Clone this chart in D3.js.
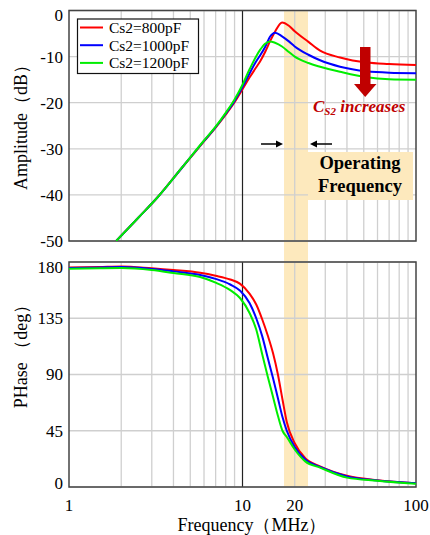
<!DOCTYPE html>
<html>
<head>
<meta charset="utf-8">
<script src="https://cdn.jsdelivr.net/npm/d3@7"></script>
<style>
  body { margin: 0; background: #fff; }
  text { font-family: "Times New Roman", "Liberation Serif", serif; }
</style>
</head>
<body>
<svg id="chart" width="430" height="535"></svg>
<script>
// data
var freqAmp = [1.87, 2.5, 3.26, 4.5, 6, 7, 8, 9, 10, 11, 12, 12.6, 13.5, 14.4, 15.4, 16.9, 18.5, 20, 24, 28, 36.5, 52, 70, 100];
var ampRed = [-50, -45, -40.4, -34, -28.4, -25.4, -22.6, -19.9, -17.1, -14.5, -12.3, -11.1, -9.0, -6.7, -4.6, -2.6, -3.3, -4.5, -6.8, -8.7, -10.2, -11.3, -11.6, -11.8];
var ampBlue = [-50, -45, -40.4, -34, -28.3, -25.3, -22.4, -19.6, -16.6, -13.6, -11.0, -9.8, -7.9, -5.7, -4.8, -5.6, -6.7, -7.8, -9.6, -10.8, -12.2, -13.2, -13.5, -13.6];
var ampGreen = [-50, -45, -40.4, -34, -28.2, -25.2, -22.2, -19.3, -16.1, -12.7, -9.9, -8.6, -7.2, -6.7, -7.0, -7.8, -9.0, -10.0, -11.4, -12.2, -13.3, -14.5, -14.9, -15.0];

var freqPh = [1, 1.5, 2, 3, 4, 5.7, 7, 8.5, 9.7, 11, 12, 13, 14, 15, 16, 17, 18, 20, 23, 28, 40, 60, 100];
var phRed = [175.5, 176, 176.5, 175, 173.6, 171.4, 169, 166, 162.5, 154.5, 146, 134, 121, 107, 90, 70, 52, 35, 23, 16.5, 9, 5.5, 3];
var phBlue = [175.2, 175.7, 176, 174.5, 172.5, 169.6, 166.5, 162, 157, 147, 135, 120.5, 103, 87, 71, 56, 45, 32, 22, 16, 8.5, 5.2, 3];
var phGreen = [174.5, 175, 175.2, 173.6, 171.2, 168, 163.5, 157.5, 151, 139, 126, 106, 88, 72, 57, 45, 40, 30, 20.5, 15.5, 7.5, 5, 2.5];

var seriesNames = ["Cs2=800pF", "Cs2=1000pF", "Cs2=1200pF"];
var seriesColors = ["#ff0000", "#0000ff", "#00ee00"];

var xTicks = [1, 10, 20, 100];
var ampTicks = [0, -10, -20, -30, -40, -50];
var phTicks = [180, 135, 90, 45, 0];
var band = [17.35, 23.85]; // operating frequency

var svg = d3.select("#chart");
var left = 69, right = 416;

var x = d3.scaleLog().domain([1, 100]).range([left, right]);
var yA = d3.scaleLinear().domain([-50, 0]).range([241, 10.5]);
var yP = d3.scaleLinear().domain([0, 180]).range([487, 262]);

var minor = [];
[1, 10].forEach(function (dec) {
  for (var k = 2; k <= 9; k++) minor.push(dec * k);
});

// operating band (through both plots)
svg.append("rect")
  .attr("x", x(band[0])).attr("y", yA(0))
  .attr("width", x(band[1]) - x(band[0]))
  .attr("height", yP(0) - yA(0))
  .attr("fill", "#fde9bd");

function panel(y, ticks, clipId) {
  var g = svg.append("g");
  var y0 = y.range()[0], y1 = y.range()[1];
  g.selectAll(".vg").data(minor).enter().append("line")
    .attr("x1", function (d) { return x(d); }).attr("x2", function (d) { return x(d); })
    .attr("y1", y0).attr("y2", y1)
    .attr("stroke", "#cfcfcf").attr("stroke-width", 1.3);
  g.selectAll(".hg").data(ticks).enter().append("line")
    .attr("x1", left).attr("x2", right)
    .attr("y1", function (d) { return y(d); }).attr("y2", function (d) { return y(d); })
    .attr("stroke", "#cfcfcf").attr("stroke-width", 1.3);
  g.append("line")
    .attr("x1", x(10)).attr("x2", x(10)).attr("y1", y0).attr("y2", y1)
    .attr("stroke", "#222").attr("stroke-width", 1.2);
  g.append("rect")
    .attr("x", left).attr("y", y1).attr("width", right - left).attr("height", y0 - y1)
    .attr("fill", "none").attr("stroke", "#444").attr("stroke-width", 1.5);
  svg.append("clipPath").attr("id", clipId).append("rect")
    .attr("x", left).attr("y", y1).attr("width", right - left).attr("height", y0 - y1);
  return g;
}

var gA = panel(yA, ampTicks, "clipA");
var gP = panel(yP, phTicks, "clipP");

// y tick labels
function yLabels(y, ticks) {
  var y0 = y.range()[0], y1 = y.range()[1];
  svg.append("g").selectAll("text").data(ticks).enter().append("text")
    .attr("x", 63)
    .attr("y", function (d) {
      var p = y(d);
      if (Math.abs(p - y1) < 1) p += 5;
      if (Math.abs(p - y0) < 1 && y0 > 400) p -= 4;
      return p;
    })
    .attr("dy", "0.35em")
    .attr("text-anchor", "end")
    .attr("font-size", 17)
    .text(function (d) { return d; });
}
yLabels(yA, ampTicks);
yLabels(yP, phTicks);

svg.append("g").selectAll("text").data(xTicks).enter().append("text")
  .attr("x", function (d) { return x(d); })
  .attr("y", 511)
  .attr("text-anchor", "middle")
  .attr("font-size", 17)
  .text(function (d) { return d; });

svg.append("text").attr("x", 252).attr("y", 531).attr("text-anchor", "middle")
  .attr("font-size", 18).text("Frequency（MHz）");
svg.append("text").attr("transform", "translate(27,123) rotate(-90)")
  .attr("text-anchor", "middle").attr("font-size", 18).text("Amplitude（dB）");
svg.append("text").attr("transform", "translate(27,352) rotate(-90)")
  .attr("text-anchor", "middle").attr("font-size", 18).text("PHase （deg）");

// curves
var ampSets = [ampRed, ampBlue, ampGreen];
var phSets = [phRed, phBlue, phGreen];

var lineA = d3.line()
  .x(function (d) { return x(d[0]); })
  .y(function (d) { return yA(d[1]); })
  .curve(d3.curveMonotoneX);
var lineP = d3.line()
  .x(function (d) { return x(d[0]); })
  .y(function (d) { return yP(d[1]); })
  .curve(d3.curveMonotoneX);

ampSets.forEach(function (vals, i) {
  gA.append("path")
    .datum(d3.zip(freqAmp, vals))
    .attr("d", lineA)
    .attr("clip-path", "url(#clipA)")
    .attr("fill", "none").attr("stroke", seriesColors[i]).attr("stroke-width", 2);
});
phSets.forEach(function (vals, i) {
  gP.append("path")
    .datum(d3.zip(freqPh, vals))
    .attr("d", lineP)
    .attr("clip-path", "url(#clipP)")
    .attr("fill", "none").attr("stroke", seriesColors[i]).attr("stroke-width", 2);
});

// legend
var lg = svg.append("g");
lg.append("rect").attr("x", 77.5).attr("y", 19).attr("width", 121).attr("height", 54.5)
  .attr("fill", "#fff").attr("stroke", "#111").attr("stroke-width", 1.2);
seriesNames.forEach(function (name, i) {
  var yy = 27.5 + i * 17.7;
  lg.append("line").attr("x1", 80).attr("x2", 103).attr("y1", yy).attr("y2", yy)
    .attr("stroke", seriesColors[i]).attr("stroke-width", 2);
  lg.append("text").attr("x", 109).attr("y", yy).attr("dy", "0.35em")
    .attr("font-size", 15.5).text(name);
});

// big red arrow + label
var ar = svg.append("g").attr("fill", "#c00000");
ar.append("rect").attr("x", 360).attr("y", 47).attr("width", 10.5).attr("height", 38);
ar.append("path").attr("d", "M354,84 L376.5,84 L365.2,97 Z");
var lab = svg.append("text").attr("x", 313).attr("y", 112)
  .attr("fill", "#c00000").attr("font-weight", "bold").attr("font-style", "italic")
  .attr("font-size", 17);
lab.append("tspan").text("C");
lab.append("tspan").attr("font-size", 11).attr("dy", 3).text("S2");
lab.append("tspan").attr("dy", -3).text(" increases");

// small arrows pointing at the band
var ay = 144;
function arrow(x1, x2) {
  var dir = x2 > x1 ? 1 : -1;
  svg.append("line").attr("x1", x1).attr("x2", x2 - dir * 5).attr("y1", ay).attr("y2", ay)
    .attr("stroke", "#000").attr("stroke-width", 1.5);
  svg.append("path")
    .attr("d", "M" + x2 + "," + ay + " L" + (x2 - dir * 7) + "," + (ay - 3.5) + " L" + (x2 - dir * 7) + "," + (ay + 3.5) + " Z")
    .attr("fill", "#000");
}
arrow(x(band[0]) - 23, x(band[0]) - 1);
arrow(x(band[1]) + 24, x(band[1]) + 2);

// operating frequency box
svg.append("rect").attr("x", x(band[1])).attr("y", 152).attr("width", 413 - x(band[1])).attr("height", 48)
  .attr("fill", "#fde9bd");
svg.append("text").attr("x", 360).attr("y", 169).attr("text-anchor", "middle")
  .attr("font-weight", "bold").attr("font-size", 18.5).text("Operating");
svg.append("text").attr("x", 360).attr("y", 192).attr("text-anchor", "middle")
  .attr("font-weight", "bold").attr("font-size", 18.5).text("Frequency");
</script>
</body>
</html>
